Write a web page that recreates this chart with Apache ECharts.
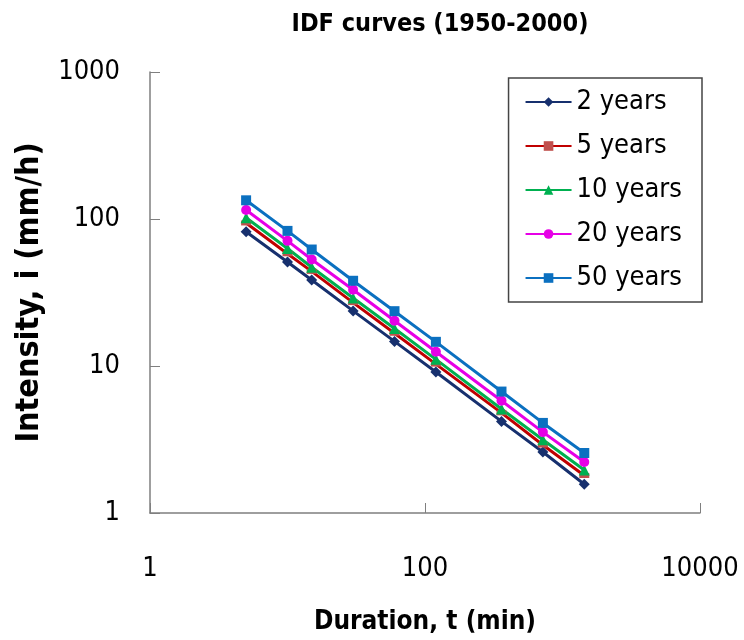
<!DOCTYPE html>
<html>
<head>
<meta charset="utf-8">
<script src="https://cdn.jsdelivr.net/npm/echarts@6/dist/echarts.min.js"></script>
<style>
  html, body { margin: 0; padding: 0; background: #fff; }
  #chart { width: 744px; height: 640px; }
</style>
</head>
<body>
<div id="chart"></div>
<script>
// durations in minutes
var durations = [5, 10, 15, 30, 60, 120, 360, 720, 1440];

// intensities (mm/h) per return period
var i2 = [82, 51, 38.5, 23.7, 14.7, 9.1, 4.2, 2.6, 1.57];
var i5 = [94, 58, 44, 27, 16.7, 10.3, 4.8, 2.9, 1.8];
var i10 = [102, 63, 47, 29, 18, 11.1, 5.1, 3.15, 1.96];
var i20 = [115, 71, 53, 33, 20.3, 12.5, 5.8, 3.55, 2.22];
var i50 = [134, 83, 62, 38, 23.6, 14.6, 6.7, 4.1, 2.56];

var seriesNames = ['2 years', '5 years', '10 years', '20 years', '50 years'];

var FONT = '"DejaVu Sans Condensed", "Liberation Sans", sans-serif';

function pairs(vals) {
    return durations.map(function (d, k) { return [d, vals[k]]; });
}

function line(name, vals, color, symbol, size, markColor) {
    return {
        name: name,
        type: 'line',
        data: pairs(vals),
        symbol: symbol,
        symbolSize: size,
        showSymbol: true,
        lineStyle: { color: color, width: 3 },
        itemStyle: { color: markColor || color },
        z: 2
    };
}

var chart = echarts.init(document.getElementById('chart'));

var option = {
    animation: false,
    title: {
        text: 'IDF curves (1950-2000)',
        left: 435,
        textAlign: 'center',
        top: 7,
        textStyle: { fontFamily: FONT, fontSize: 25, fontWeight: 'bold', color: '#000' }
    },
    grid: { left: 150, right: 44, top: 72, bottom: 127, outerBoundsMode: 'none' },
    legend: {
        orient: 'vertical',
        right: 42,
        top: 78,
        padding: [8, 20, 8, 16],
        itemGap: 12,
        itemWidth: 46,
        itemHeight: 12,
        borderColor: '#444',
        borderWidth: 1.5,
        textStyle: { fontFamily: FONT, fontSize: 27, color: '#000', lineHeight: 32 },
        data: seriesNames
    },
    xAxis: {
        type: 'log',
        logBase: 100,
        min: 1,
        max: 10000,
        name: 'Duration, t (min)',
        nameLocation: 'middle',
        nameGap: 96,
        nameTextStyle: { fontFamily: FONT, fontSize: 26, fontWeight: 'bold', color: '#000' },
        axisLine: { lineStyle: { color: '#7f7f7f', width: 1.5 } },
        axisTick: { inside: true, length: 10, lineStyle: { color: '#7f7f7f' } },
        axisLabel: { fontFamily: FONT, fontSize: 27, color: '#000', margin: 42, formatter: function (v) { return String(v); } },
        splitLine: { show: false }
    },
    yAxis: {
        type: 'log',
        logBase: 10,
        min: 1,
        max: 1000,
        name: 'Intensity, i (mm/h)',
        nameLocation: 'middle',
        nameGap: 104,
        nameTextStyle: { fontFamily: FONT, fontSize: 32, fontWeight: 'bold', color: '#000' },
        axisLine: { show: true, lineStyle: { color: '#7f7f7f', width: 1.5 } },
        axisTick: { show: true, inside: true, length: 10, lineStyle: { color: '#7f7f7f' } },
        axisLabel: { fontFamily: FONT, fontSize: 27, color: '#000', margin: 30, formatter: function (v) { return String(v); } },
        splitLine: { show: false }
    },
    series: [
        line(seriesNames[0], i2, '#17306e', 'diamond', 11),
        line(seriesNames[1], i5, '#c00000', 'rect', [10, 5], '#c0504d'),
        line(seriesNames[2], i10, '#00b050', 'triangle', 11),
        line(seriesNames[3], i20, '#e600e6', 'circle', 10),
        line(seriesNames[4], i50, '#0b70c0', 'rect', 10)
    ]
};

chart.setOption(option);
</script>
</body>
</html>
